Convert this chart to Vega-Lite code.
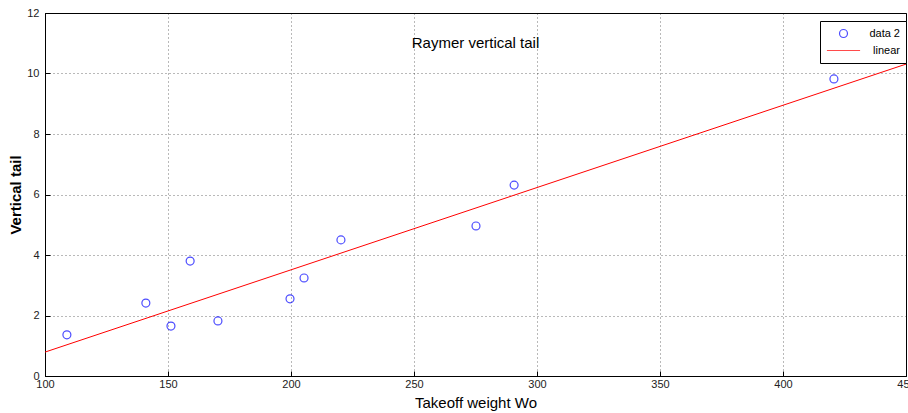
{
  "$schema": "https://vega.github.io/schema/vega-lite/v6.json",
  "autosize": {"type": "none"},
  "padding": {"left": 45, "top": 13, "right": 2, "bottom": 37},
  "width": 861,
  "height": 363,
  "background": "white",
  "title": {"text": "Raymer vertical tail", "orient": "top", "anchor": "middle", "offset": -44, "font": "Liberation Sans", "fontSize": 15, "fontWeight": "normal", "color": "black"},
  "config": {
    "view": {"stroke": "black", "strokeWidth": 1},
    "axis": {
      "labelFont": "Liberation Sans", "labelFontSize": 11, "labelColor": "#222", "labelFlush": false,
      "titleFont": "Liberation Sans", "titleFontSize": 15, "titleFontWeight": "normal", "titleColor": "black",
      "domainColor": "black", "tickColor": "black", "tickSize": -5,
      "gridColor": "#000", "gridDash": [1, 3], "gridOpacity": 0.55
    }
  },
  "datasets": {
    "pts": [
      {"w": 108.9, "v": 1.36, "series": "data 2"},
      {"w": 141.0, "v": 2.41, "series": "data 2"},
      {"w": 151.2, "v": 1.65, "series": "data 2"},
      {"w": 159.0, "v": 3.80, "series": "data 2"},
      {"w": 170.3, "v": 1.82, "series": "data 2"},
      {"w": 199.6, "v": 2.55, "series": "data 2"},
      {"w": 205.3, "v": 3.24, "series": "data 2"},
      {"w": 220.3, "v": 4.50, "series": "data 2"},
      {"w": 275.2, "v": 4.96, "series": "data 2"},
      {"w": 290.7, "v": 6.31, "series": "data 2"},
      {"w": 420.7, "v": 9.82, "series": "data 2"}
    ],
    "fit": [
      {"w": 100, "v": 0.79, "series": "linear"},
      {"w": 450, "v": 10.31, "series": "linear"}
    ]
  },
  "layer": [
    {
      "data": {"name": "pts"},
      "mark": {"type": "point", "filled": false, "size": 1100, "strokeWidth": 1.2},
      "encoding": {
        "x": {"field": "w", "type": "quantitative", "scale": {"domain": [100, 450], "nice": false, "zero": false},
              "axis": {"title": "Takeoff weight Wo", "values": [100, 150, 200, 250, 300, 350, 400, 450], "titlePadding": 6, "labelPadding": 7}},
        "y": {"field": "v", "type": "quantitative", "scale": {"domain": [0, 12], "nice": false},
              "axis": {"title": "Vertical tail", "values": [0, 2, 4, 6, 8, 10, 12], "titlePadding": 3, "labelPadding": 11, "titleFontWeight": "bold"}},
        "color": {"field": "series", "type": "nominal",
                  "scale": {"domain": ["data 2", "linear"], "range": ["blue", "red"]},
                  "legend": {"title": null, "orient": "none", "legendX": 775, "legendY": 8, "strokeColor": "black", "fillColor": "white", "padding": 6,
                             "labelFont": "Liberation Sans", "labelFontSize": 11, "labelColor": "black", "labelAlign": "right", "labelOffset": 39,
                             "symbolSize": 1100, "symbolStrokeWidth": 1.2, "clipHeight": 13, "rowPadding": 4}},
        "shape": {"field": "series", "type": "nominal",
                  "scale": {"domain": ["data 2", "linear"], "range": ["M-0.24,0A0.24,0.24 0 1,0 0.24,0A0.24,0.24 0 1,0 -0.24,0Z", "stroke"]},
                  "legend": null}
      }
    },
    {
      "data": {"name": "fit"},
      "mark": {"type": "line", "strokeWidth": 1, "clip": true},
      "encoding": {
        "x": {"field": "w", "type": "quantitative"},
        "y": {"field": "v", "type": "quantitative"},
        "color": {"field": "series", "type": "nominal"}
      }
    }
  ]
}
